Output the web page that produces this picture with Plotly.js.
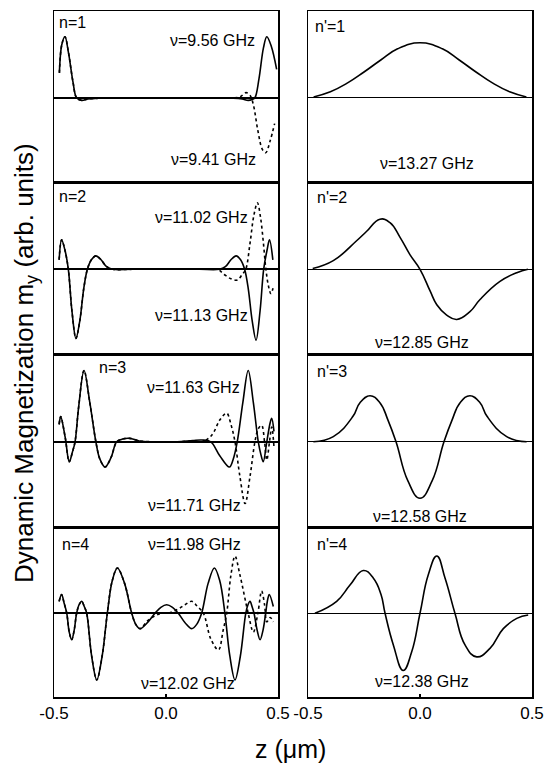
<!DOCTYPE html>
<html><head><meta charset="utf-8">
<script src="https://cdn.plot.ly/plotly-3.0.1.min.js"></script>
<style>html,body{margin:0;padding:0;background:#fff;}#chart{width:547px;height:763px;}</style>
</head><body><div id="chart"></div>
<script>
// ---------- data (z in µm, m_y in arb. units) ----------
// Left column: n = 1..4 (solid and dashed modes)
const n1SolidZ = [-0.476,-0.465,-0.451,-0.435,-0.415,-0.399,-0.376,-0.35,-0.3,-0.2,-0.1,0,0.1,0.2,0.3,0.34,0.367,0.385,0.397,0.415,0.435,0.45,0.47,0.494];
const n1SolidY = [0.29,0.62,0.71,0.52,0.18,0,-0.03,-0.015,-0.005,0,0,0,0,0,-0.005,-0.015,-0.03,-0.02,0,0.22,0.58,0.71,0.6,0.33];
const n1DashZ  = [-0.476,-0.465,-0.451,-0.435,-0.415,-0.399,-0.376,-0.35,-0.3,-0.2,-0.1,0,0.1,0.2,0.3,0.33,0.357,0.375,0.39,0.41,0.43,0.445,0.465,0.485];
const n1DashY  = [0.29,0.62,0.71,0.52,0.18,0,-0.03,-0.015,-0.005,0,0,0,0,0,0,0.01,0.06,0.03,-0.08,-0.38,-0.6,-0.64,-0.5,-0.3];

const n2SolidZ = [-0.477,-0.466,-0.451,-0.436,-0.42,-0.402,-0.385,-0.367,-0.351,-0.333,-0.313,-0.29,-0.265,-0.238,-0.15,0,0.15,0.238,0.265,0.29,0.313,0.333,0.351,0.367,0.385,0.402,0.42,0.436,0.451,0.462,0.477];
const n2SolidY = [0.11,0.34,0.22,0,-0.48,-0.8,-0.6,-0.22,0,0.11,0.155,0.11,0.03,0,0,0,0,0,0.03,0.11,0.155,0.11,0,-0.22,-0.6,-0.82,-0.48,0,0.22,0.34,0.11];
const n2DashZ  = [-0.477,-0.466,-0.451,-0.436,-0.42,-0.402,-0.385,-0.367,-0.351,-0.333,-0.313,-0.29,-0.265,-0.238,-0.15,0,0.15,0.229,0.26,0.29,0.319,0.34,0.356,0.375,0.392,0.408,0.422,0.435,0.446,0.458,0.468,0.478];
const n2DashY  = [0.11,0.34,0.22,0,-0.48,-0.8,-0.6,-0.22,0,0.11,0.155,0.11,0.03,0,0,0,0,0,-0.06,-0.11,-0.125,-0.06,0,0.3,0.62,0.77,0.6,0.3,0,-0.2,-0.28,-0.22];

const n3SolidZ = [-0.477,-0.47,-0.45,-0.432,-0.418,-0.406,-0.39,-0.366,-0.34,-0.313,-0.295,-0.272,-0.245,-0.22,-0.19,-0.161,-0.12,-0.05,0.05,0.12,0.16,0.2,0.24,0.283,0.3,0.318,0.343,0.367,0.39,0.412,0.424,0.434,0.45,0.465,0.472,0.482];
const n3SolidY = [0.2,0.29,0.05,-0.23,-0.12,0,0.4,0.82,0.45,0,-0.2,-0.29,-0.18,0,0.035,0.04,0.01,0,0,0.015,0.02,0,-0.16,-0.29,-0.2,0,0.45,0.82,0.45,0,-0.15,-0.23,0,0.22,0.27,0.12];
const n3DashZ  = [-0.477,-0.47,-0.45,-0.432,-0.418,-0.406,-0.39,-0.366,-0.34,-0.313,-0.295,-0.272,-0.245,-0.22,-0.19,-0.161,-0.12,-0.05,0.05,0.12,0.16,0.19,0.211,0.24,0.271,0.29,0.308,0.33,0.353,0.375,0.397,0.412,0.427,0.44,0.45,0.462,0.472,0.482];
const n3DashY  = [0.2,0.29,0.05,-0.23,-0.12,0,0.4,0.82,0.45,0,-0.2,-0.29,-0.18,0,0.035,0.04,0.01,0,0,0.01,0,0.04,0.1,0.25,0.33,0.2,0,-0.4,-0.71,-0.4,0,0.15,0.19,0,-0.21,0,0.17,-0.06];

const n4SolidZ = [-0.477,-0.466,-0.455,-0.443,-0.432,-0.421,-0.41,-0.399,-0.388,-0.376,-0.365,-0.354,-0.332,-0.309,-0.285,-0.262,-0.24,-0.217,-0.185,-0.153,-0.135,-0.116,-0.083,-0.049,-0.023,0.003,0.029,0.055,0.085,0.115,0.137,0.159,0.188,0.216,0.24,0.263,0.285,0.308,0.332,0.356,0.366,0.375,0.384,0.393,0.407,0.42,0.433,0.445,0.453,0.461,0.479];
const n4SolidY = [0.14,0.22,0.12,0,-0.22,-0.31,-0.2,0,0.1,0.14,0.08,0,-0.5,-0.78,-0.5,0,0.38,0.53,0.35,0,-0.13,-0.18,-0.11,0,0.07,0.1,0.07,0,-0.11,-0.18,-0.13,0,0.35,0.53,0.38,0,-0.5,-0.78,-0.5,0,0.1,0.14,0.08,0,-0.2,-0.31,-0.2,0,0.15,0.22,0.08];
const n4DashZ  = [-0.477,-0.466,-0.455,-0.443,-0.432,-0.421,-0.41,-0.399,-0.388,-0.376,-0.365,-0.354,-0.332,-0.309,-0.285,-0.262,-0.24,-0.217,-0.185,-0.153,-0.135,-0.116,-0.083,-0.049,-0.02,0.02,0.055,0.085,0.115,0.14,0.167,0.2,0.234,0.255,0.271,0.29,0.308,0.33,0.367,0.39,0.41,0.427,0.44,0.45,0.465,0.479];
const n4DashY  = [0.14,0.22,0.12,0,-0.22,-0.31,-0.2,0,0.1,0.14,0.08,0,-0.5,-0.78,-0.5,0,0.38,0.53,0.35,0,-0.13,-0.18,-0.09,-0.03,0,0.01,0.05,0.1,0.14,0.08,0,-0.3,-0.43,-0.2,0,0.45,0.67,0.45,0,-0.22,0,0.26,0.1,-0.1,-0.05,-0.1];

// Right column: n' = 1..4
const r1Z = [-0.475,-0.4,-0.325,-0.25,-0.175,-0.1,0,0.1,0.175,0.25,0.325,0.4,0.475];
const r1Y = [0.01,0.07,0.17,0.3,0.44,0.57,0.64,0.57,0.44,0.3,0.17,0.07,0.01];
const r2Z = [-0.479,-0.387,-0.283,-0.238,-0.179,-0.134,-0.089,-0.045,0,0.045,0.075,0.119,0.164,0.223,0.268,0.357,0.432,0.482];
const r2Y = [0.01,0.1,0.33,0.44,0.58,0.54,0.37,0.17,0,-0.25,-0.41,-0.53,-0.58,-0.49,-0.35,-0.14,-0.04,0];
const r3Z = [-0.476,-0.387,-0.3,-0.268,-0.223,-0.179,-0.143,-0.107,-0.054,0,0.054,0.107,0.143,0.179,0.223,0.268,0.3,0.387,0.476];
const r3Y = [0,0.06,0.29,0.45,0.53,0.45,0.25,0,-0.45,-0.65,-0.45,0,0.25,0.45,0.53,0.45,0.29,0.06,0];
const r4Z = [-0.469,-0.372,-0.3125,-0.253,-0.208,-0.174,-0.156,-0.119,-0.075,-0.037,0,0.037,0.075,0.112,0.156,0.201,0.253,0.3125,0.372,0.432,0.483];
const r4Y = [0,0.14,0.33,0.5,0.41,0.22,0,-0.37,-0.67,-0.45,0,0.45,0.67,0.41,0,-0.37,-0.51,-0.41,-0.18,-0.06,-0.02];

// labels
const leftModeLabels  = ['n=1','n=2','n=3','n=4'];
const leftFreqTop     = ['ν=9.56 GHz','ν=11.02 GHz','ν=11.63 GHz','ν=11.98 GHz'];
const leftFreqBottom  = ['ν=9.41 GHz','ν=11.13 GHz','ν=11.71 GHz','ν=12.02 GHz'];
const rightModeLabels = ["n'=1","n'=2","n'=3","n'=4"];
const rightFreq       = ['ν=13.27 GHz','ν=12.85 GHz','ν=12.58 GHz','ν=12.38 GHz'];
const xTickVals = [-0.5, 0, 0.5];
const xTickText = ['-0.5','0.0','0.5'];
const xTitle = 'z (μm)';
const yTitle = 'Dynamic Magnetization m<sub>y</sub> (arb. units)';

// ---------- layout helpers ----------
const W = 547, H = 763;
const FONT = 'Liberation Sans, Arial, sans-serif';
const colX = [[54, 278], [308, 532]];
const rowY = [11, 182, 354, 527, 697];
const px2x = p => p / W;
const px2y = p => 1 - p / H;

const leftSolid = [[n1SolidZ,n1SolidY],[n2SolidZ,n2SolidY],[n3SolidZ,n3SolidY],[n4SolidZ,n4SolidY]];
const leftDash  = [[n1DashZ,n1DashY],[n2DashZ,n2DashY],[n3DashZ,n3DashY],[n4DashZ,n4DashY]];
const rightSolid = [[r1Z,r1Y],[r2Z,r2Y],[r3Z,r3Y],[r4Z,r4Y]];

// annotation placement (data coords within each panel)
const leftModePos   = [[-0.487,0.88],[-0.487,0.84],[-0.31,0.86],[-0.473,0.80]];
const leftTopPos    = [[0.406,0.67],[0.375,0.60],[0.339,0.62],[0.344,0.80]];
const leftBotPos    = [[0.411,-0.72],[0.375,-0.53],[0.344,-0.73],[0.317,-0.82]];
const rightModePos  = [[-0.478,0.83],[-0.469,0.83],[-0.469,0.81],[-0.469,0.81]];
const rightFreqPos  = [[0.029,-0.76],[0.011,-0.85],[0.0,-0.86],[0.011,-0.80]];

const traces = [];
const layout = {
  width: W, height: H,
  margin: {l:0, r:0, t:0, b:0},
  paper_bgcolor: '#fff', plot_bgcolor: '#fff',
  showlegend: false,
  font: {family: FONT, color: '#000', size: 16},
  annotations: [],
};

function axName(k, p) { return k === 1 ? p : p + k; }

for (let c = 0; c < 2; c++) {
  for (let r = 0; r < 4; r++) {
    const k = c * 4 + r + 1;
    const xa = axName(k, 'x'), ya = axName(k, 'y');
    const bottom = r === 3;
    layout[axName(k, 'xaxis')] = {
      domain: [px2x(colX[c][0]), px2x(colX[c][1])],
      anchor: ya, range: [-0.5, 0.5],
      showline: true, mirror: true, linecolor: '#000', linewidth: 1.5,
      showgrid: false, zeroline: false,
      tickvals: xTickVals, ticktext: xTickText,
      ticks: bottom ? 'inside' : '', ticklen: 3, tickwidth: 1.2, tickcolor: '#000',
      showticklabels: bottom,
      tickfont: {family: FONT, size: 17, color: '#000'},
      fixedrange: true,
    };
    layout[axName(k, 'yaxis')] = {
      domain: [px2y(rowY[r + 1]), px2y(rowY[r])],
      anchor: xa, range: [-0.98, 1.01],
      showline: true, mirror: true, linecolor: '#000', linewidth: 1.5,
      showgrid: false, showticklabels: false, ticks: '',
      zeroline: true, zerolinecolor: '#000', zerolinewidth: c === 0 ? 2 : 1.3,
      fixedrange: true,
    };
    if (c === 0) {
      traces.push({x: leftDash[r][0], y: leftDash[r][1], xaxis: xa, yaxis: ya, mode: 'lines',
        line: {color: '#000', width: 1.6, dash: '3px,3px', shape: 'spline', smoothing: 1}, hoverinfo: 'skip'});
      traces.push({x: leftSolid[r][0], y: leftSolid[r][1], xaxis: xa, yaxis: ya, mode: 'lines',
        line: {color: '#000', width: 1.6, shape: 'spline', smoothing: 1}, hoverinfo: 'skip'});
      layout.annotations.push({xref: xa, yref: ya, x: leftModePos[r][0], y: leftModePos[r][1], text: leftModeLabels[r], showarrow: false, xanchor: 'left', yanchor: 'middle'});
      layout.annotations.push({xref: xa, yref: ya, x: leftTopPos[r][0], y: leftTopPos[r][1], text: leftFreqTop[r], showarrow: false, xanchor: 'right', yanchor: 'middle'});
      layout.annotations.push({xref: xa, yref: ya, x: leftBotPos[r][0], y: leftBotPos[r][1], text: leftFreqBottom[r], showarrow: false, xanchor: 'right', yanchor: 'middle'});
    } else {
      traces.push({x: rightSolid[r][0], y: rightSolid[r][1], xaxis: xa, yaxis: ya, mode: 'lines',
        line: {color: '#000', width: 1.6, shape: 'spline', smoothing: 1.3}, hoverinfo: 'skip'});
      layout.annotations.push({xref: xa, yref: ya, x: rightModePos[r][0], y: rightModePos[r][1], text: rightModeLabels[r], showarrow: false, xanchor: 'left', yanchor: 'middle'});
      layout.annotations.push({xref: xa, yref: ya, x: rightFreqPos[r][0], y: rightFreqPos[r][1], text: rightFreq[r], showarrow: false, xanchor: 'center', yanchor: 'middle'});
    }
  }
}

layout.annotations.push({xref: 'paper', yref: 'paper', x: px2x(291), y: px2y(749), text: xTitle,
  showarrow: false, xanchor: 'center', yanchor: 'middle', font: {family: FONT, size: 25, color: '#000'}});
layout.annotations.push({xref: 'paper', yref: 'paper', x: px2x(25), y: px2y(363), text: yTitle, textangle: -90,
  showarrow: false, xanchor: 'center', yanchor: 'middle', font: {family: FONT, size: 26, color: '#000'}});

Plotly.newPlot('chart', traces, layout, {staticPlot: true, displayModeBar: false});
</script></body></html>
